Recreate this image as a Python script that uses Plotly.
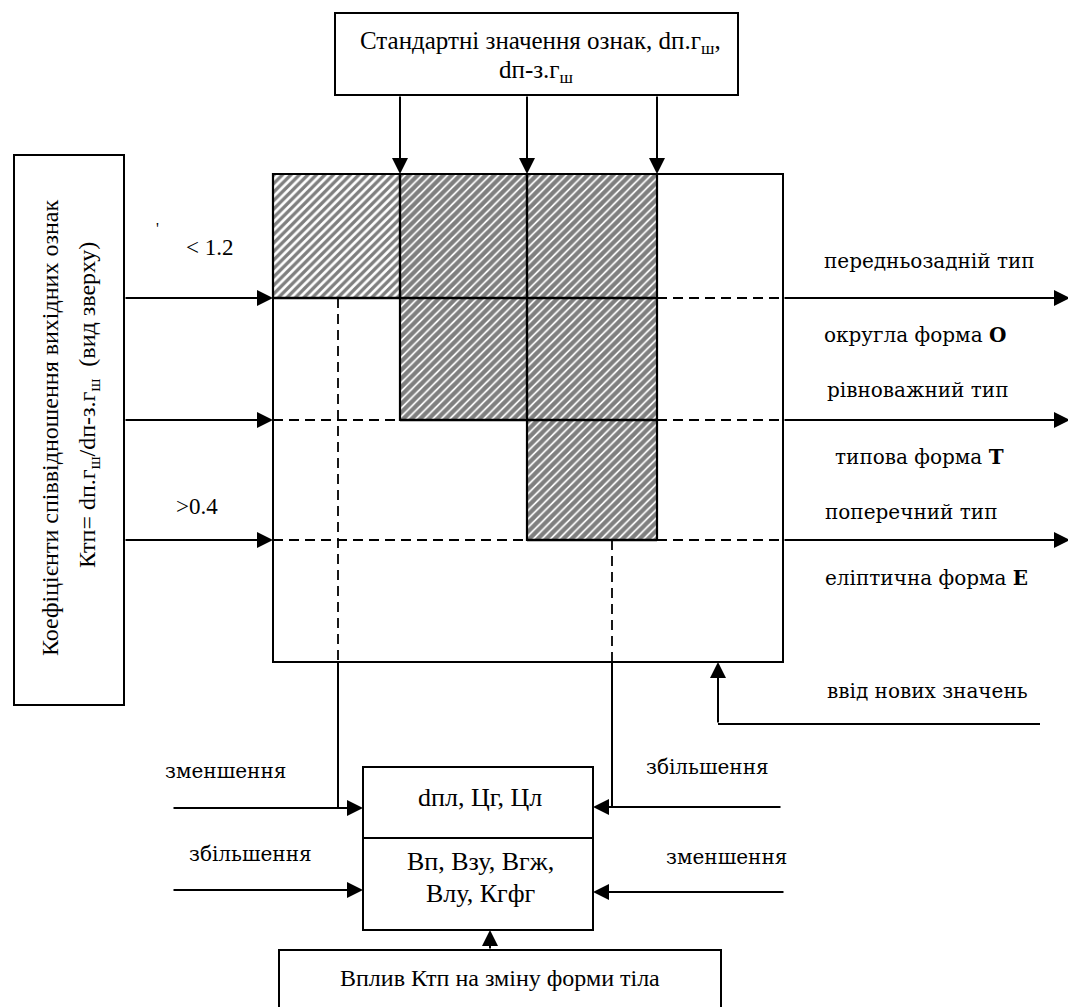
import plotly.graph_objects as go

W, H = 1076, 1007
PAGE_MARGIN = 8  # default body margin of the html page

# ---- diagram structure ----
col_edges = [273, 400, 527, 657, 783]      # grid columns
row_edges = [174, 298, 420, 540, 662]      # grid rows
hatch_rows = [1, 2, 3]                     # hatched rows per column
hatch_shape = ['/', '/', '/']
hatch_solid = [0.55, 0.7, 0.7]

SUB = '<sub>ш</sub>'
top_title = ["Стандартні значення ознак, dп.г" + SUB + ",", "dп-з.г" + SUB]
left_title = ["Коефіцієнти співвідношення вихідних ознак",
              "Ктп= dп.г" + SUB + "/dп-з.г" + SUB + "  (вид зверху)"]
in_labels = ["< 1.2", ">0.4"]
out_labels = ["передньозадній тип", "округла форма <b>О</b>", "рівноважний тип",
              "типова форма <b>Т</b>", "поперечний тип", "еліптична форма <b>Е</b>",
              "ввід нових значень"]
mid_labels = ["dпл, Цг, Цл", "Вп, Взу, Вгж,", "Влу, Кгфг"]
side_labels = ["зменшення", "збільшення", "збільшення", "зменшення"]
bottom_label = "Вплив Ктп на зміну форми тіла"

SERIF = "Liberation Serif"
WIDE = "DejaVu Serif"

fig = go.Figure()
shapes = []
annots = []


def line(x0, y0, x1, y1, dash="solid", w=2):
    shapes.append(dict(type="line", x0=x0, y0=y0, x1=x1, y1=y1, xref="x", yref="y",
                       line=dict(color="black", width=w, dash=dash), layer="above"))


def rect(x0, y0, x1, y1, w=2):
    shapes.append(dict(type="rect", x0=x0, y0=y0, x1=x1, y1=y1, xref="x", yref="y",
                       line=dict(color="black", width=w), fillcolor="rgba(0,0,0,0)", layer="above"))


def arrow(x0, y0, x1, y1):
    annots.append(dict(x=x1, y=y1, ax=x0, ay=y0, xref="x", yref="y", axref="x", ayref="y",
                       text="", showarrow=True, arrowhead=2, arrowsize=1.6, arrowwidth=2,
                       arrowcolor="black", standoff=0, startstandoff=0))


def text(x, y, s, size=20, family=SERIF, anchor="center", angle=0):
    annots.append(dict(x=x, y=y, xref="x", yref="y", text=s, showarrow=False,
                       xanchor=anchor, yanchor="middle", textangle=angle,
                       font=dict(family=family, size=size, color="black")))


DASH = "10px,6px"

# hatched regions
for i, depth in enumerate(hatch_rows):
    x0, x1 = col_edges[i], col_edges[i + 1]
    y0, y1 = row_edges[0], row_edges[depth]
    fig.add_trace(go.Scatter(x=[x0, x1, x1, x0, x0], y=[y0, y0, y1, y1, y0], mode="lines",
                             fill="toself", line=dict(width=0, color="black"),
                             fillcolor="white",
                             fillpattern=dict(shape=hatch_shape[i], fgcolor="black", bgcolor="white",
                                              size=6, solidity=hatch_solid[i]),
                             hoverinfo="skip", showlegend=False))

# dashed row lines across the grid
for r in range(1, 4):
    line(col_edges[0], row_edges[r], col_edges[-1], row_edges[r], dash=DASH, w=2)
# solid borders of hatched regions
for i, depth in enumerate(hatch_rows):
    x0, x1 = col_edges[i], col_edges[i + 1]
    rect(x0, row_edges[0], x1, row_edges[depth], w=2.2)
    for r in range(1, depth + 1):
        line(x0, row_edges[r], x1, row_edges[r], w=2.4)
# outer grid box
rect(col_edges[0], row_edges[0], col_edges[-1], row_edges[-1])

# top box and arrows down
rect(335, 13, 738, 95)
text(540, 42, top_title[0], size=25)
text(536, 71, top_title[1], size=25)
for x in col_edges[1:4]:
    arrow(x, 95, x, row_edges[0])

# left box
rect(14, 155, 124, 705)
text(50, 428, left_title[0], size=24, angle=-90)
text(89, 405, left_title[1], size=24, angle=-90)
for r in range(1, 4):
    arrow(124, row_edges[r], col_edges[0], row_edges[r])
text(209, 247, in_labels[0], size=23)
text(197, 506, in_labels[1], size=23)
text(157, 228, "'", size=16)

# output arrows on the right
for r in range(1, 4):
    arrow(col_edges[-1], row_edges[r], 1070, row_edges[r])
out_pos = [(822, 261), (822, 335), (825, 390), (833, 457), (823, 512), (823, 578), (825, 691)]
for s, (x, y) in zip(out_labels, out_pos):
    text(x, y, s, size=20, family=WIDE, anchor="left")

# dashed verticals and their continuations
line(338, row_edges[1], 338, row_edges[-1], dash=DASH, w=1.8)
line(612, row_edges[3], 612, row_edges[-1], dash=DASH, w=1.8)
line(338, row_edges[-1], 338, 808, w=2)
line(612, row_edges[-1], 612, 807, w=2)

# middle box
rect(363, 767, 593, 930)
line(363, 838, 593, 838)
text(480, 797, mid_labels[0], size=26)
text(480, 861, mid_labels[1], size=26)
text(480, 893, mid_labels[2], size=26)

arrow(172, 808, 363, 808)
arrow(172, 890, 363, 890)
arrow(782, 807, 593, 807)
arrow(785, 892, 593, 892)
text(225, 771, side_labels[0], size=20, family=WIDE)
text(250, 854, side_labels[1], size=20, family=WIDE)
text(707, 767, side_labels[2], size=20, family=WIDE)
text(726, 857, side_labels[3], size=20, family=WIDE)

# new values input
line(1040, 724, 718, 724)
arrow(718, 724, 718, row_edges[-1])

# bottom box
rect(279, 950, 721, 1020)
arrow(490, 950, 490, 930)
text(500, 978, bottom_label, size=24)

fig.update_layout(
    width=W - PAGE_MARGIN, height=H - PAGE_MARGIN, margin=dict(l=0, r=0, t=0, b=0),
    paper_bgcolor="white", plot_bgcolor="white",
    xaxis=dict(range=[PAGE_MARGIN, W], visible=False, fixedrange=True),
    yaxis=dict(range=[H, PAGE_MARGIN], visible=False, fixedrange=True),
    shapes=shapes, annotations=annots, showlegend=False,
)
fig.write_html("out.html")
